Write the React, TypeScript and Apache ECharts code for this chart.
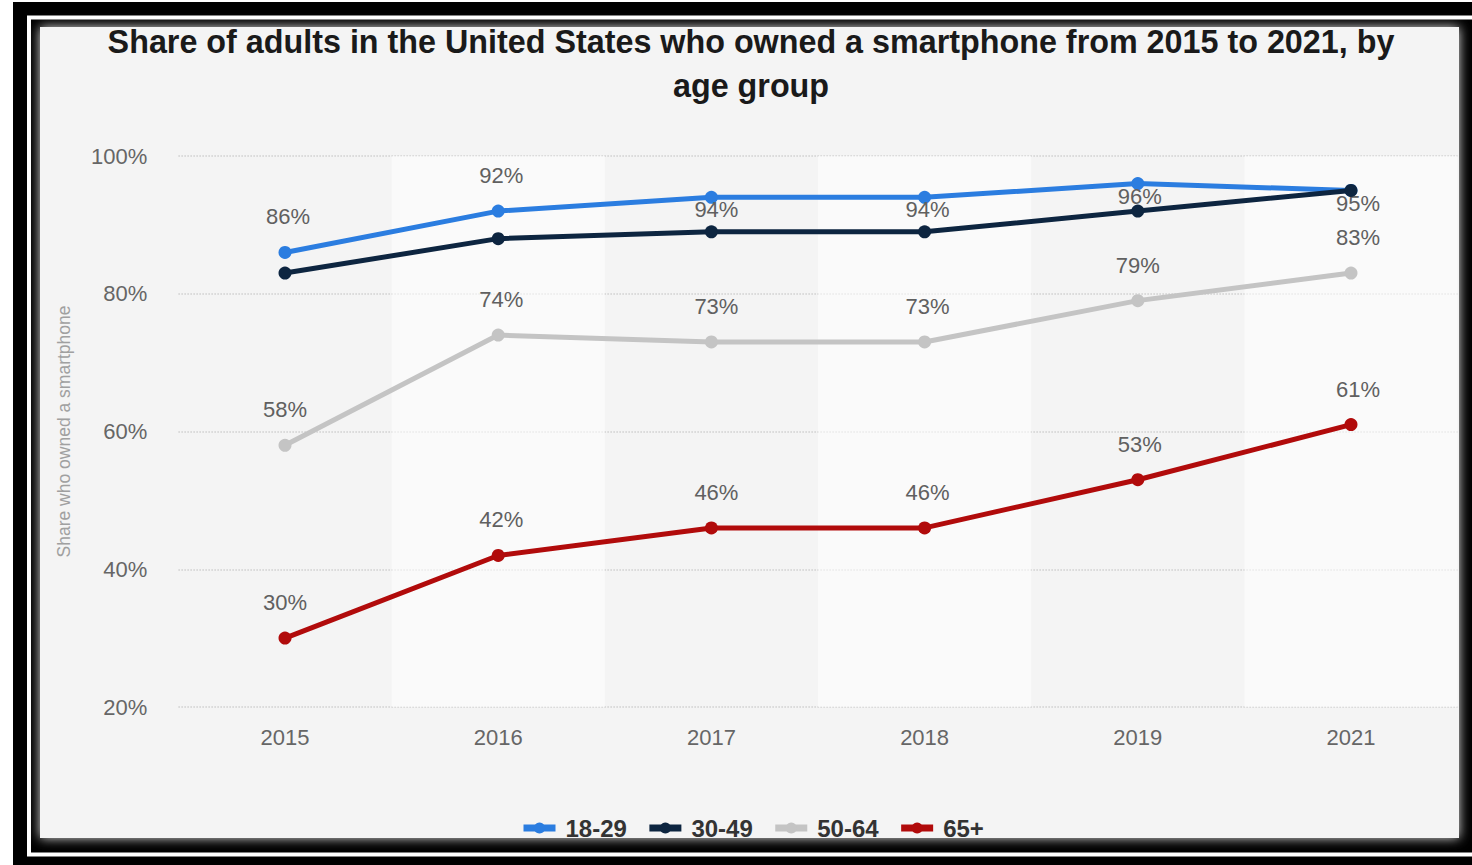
import React, { useEffect, useRef } from "react";
import * as echarts from "echarts";

const years = ["2015", "2016", "2017", "2018", "2019", "2021"];
const seriesNames = ["18-29", "30-49", "50-64", "65+"];
const age18to29 = [86, 92, 94, 94, 96, 95];
const age30to49 = [83, 88, 89, 89, 92, 95];
const age50to64 = [58, 74, 73, 73, 79, 83];
const age65plus = [30, 42, 46, 46, 53, 61];
const yTicks = { min: 20, max: 100, interval: 20 };

const colors = ["#2b7de0", "#0d2540", "#c4c4c4", "#b10b0b"];

export default function App() {
  const ref = useRef<HTMLDivElement>(null);
  useEffect(() => {
    if (!ref.current) return;
    const chart = echarts.init(ref.current, undefined, { renderer: "svg" });
    const font = "Liberation Sans, Arial, Helvetica, sans-serif";
    const labelStyle = {
      show: true,
      position: "top" as const,
      distance: 18,
      formatter: "{c}%",
      color: "#606060",
      fontSize: 22,
      fontFamily: font,
    };
    const mk = (vals: number[], overrides: Record<number, any> = {}) =>
      vals.map((v, i) => (overrides[i] ? { value: v, label: overrides[i] } : v));

    const series = [
      {
        name: seriesNames[0],
        data: mk(age18to29, {
          0: { offset: [3, 0] },
          1: { offset: [3, 0] },
          2: { offset: [5, 48] },
          3: { offset: [3, 48] },
          4: { offset: [2, 48] },
          5: { offset: [7, 49] },
        }),
        label: labelStyle,
        z: 4,
      },
      { name: seriesNames[1], data: age30to49, label: { show: false }, z: 5 },
      {
        name: seriesNames[2],
        data: mk(age50to64, { 1: { offset: [3, 0] }, 2: { offset: [5, 0] }, 3: { offset: [3, 0] }, 5: { offset: [7, 0] } }),
        label: labelStyle,
        z: 3,
      },
      {
        name: seriesNames[3],
        data: mk(age65plus, { 1: { offset: [3, 0] }, 2: { offset: [5, 0] }, 3: { offset: [3, 0] }, 4: { offset: [2, 0] }, 5: { offset: [7, 0] } }),
        label: labelStyle,
        z: 3,
      },
    ].map((s, i) => ({
      type: "line",
      symbol: "circle",
      symbolSize: 13,
      lineStyle: { width: 5, color: colors[i] },
      itemStyle: { color: colors[i] },
      ...s,
    }));

    chart.setOption({
      animation: false,
      backgroundColor: "#ffffff",
      color: colors,
      textStyle: { fontFamily: font },
      graphic: [
        { type: "rect", z: -100, shape: { x: 13, y: 2, width: 1500, height: 863 }, style: { fill: "#000" } },
        { type: "rect", z: -99, shape: { x: 29, y: 17.5, width: 1500, height: 837 }, style: { fill: "none", stroke: "#fff", lineWidth: 4 } },
        {
          type: "rect",
          z: -98,
          shape: { x: 40, y: 27, width: 1419, height: 811 },
          style: { fill: "#f4f4f4", shadowBlur: 12, shadowColor: "#e0e0e0" },
        },
        {
          type: "text",
          z: 10,
          x: 751,
          y: 20,
          style: {
            text: "Share of adults in the United States who owned a smartphone from 2015 to 2021, by\nage group",
            fontSize: 32.3,
            fontWeight: "bold",
            fontFamily: font,
            fill: "#1a1a1a",
            lineHeight: 44,
            align: "center",
            verticalAlign: "top",
          },
        },
      ],
      legend: {
        bottom: 20,
        left: 515,
        itemWidth: 32,
        itemHeight: 14,
        itemGap: 19,
        lineStyle: { width: 7 },
        textStyle: { fontSize: 24, fontWeight: "bold", color: "#333", fontFamily: font, padding: [0, 0, 0, 5] },
        data: seriesNames,
      },
      grid: { left: 178.4, right: 14.4, top: 156, bottom: 158 },
      xAxis: {
        type: "category",
        data: years,
        boundaryGap: true,
        axisLine: { show: false },
        axisTick: { show: false },
        axisLabel: { color: "#666", fontSize: 22, margin: 19, fontFamily: font },
        splitLine: { show: false },
        splitArea: { show: true, areaStyle: { color: ["rgba(0,0,0,0)", "rgba(255,255,255,0.55)"] } },
      },
      yAxis: {
        type: "value",
        min: yTicks.min,
        max: yTicks.max,
        interval: yTicks.interval,
        name: "Share who owned a smartphone",
        nameLocation: "middle",
        nameGap: 105,
        nameTextStyle: { color: "#a0a0a0", fontSize: 17.5, fontFamily: font },
        axisLine: { show: false },
        axisTick: { show: false },
        axisLabel: { color: "#666", fontSize: 22, margin: 31, formatter: "{value}%", fontFamily: font },
        splitLine: { lineStyle: { color: "#cfcfcf", type: "dotted", width: 1.5 } },
      },
      series,
    });
    return () => chart.dispose();
  }, []);
  return (
    <div
      ref={ref}
      style={{ position: "absolute", left: 0, top: 0, width: 1472, height: 865 }}
    />
  );
}
